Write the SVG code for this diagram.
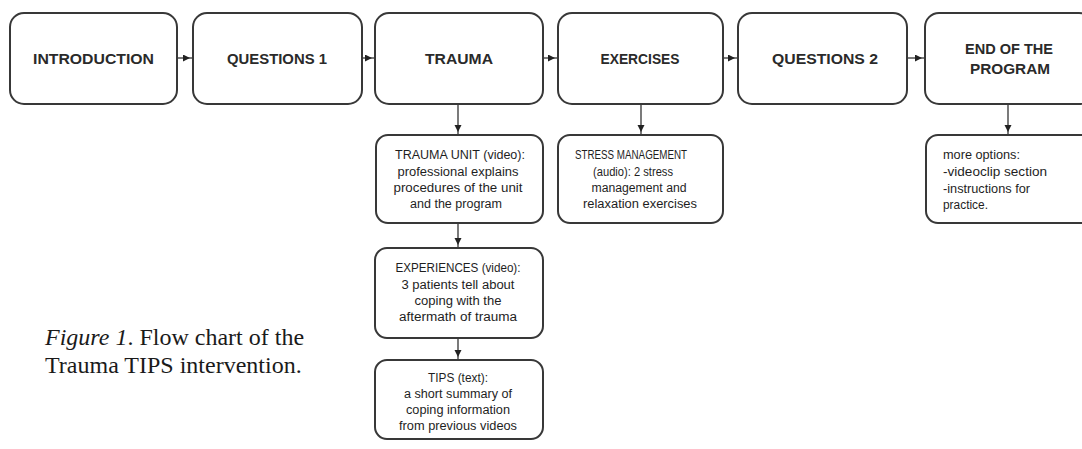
<svg xmlns="http://www.w3.org/2000/svg" width="1082" height="449" viewBox="0 0 1082 449">
<style>
.box{fill:#ffffff;stroke:#383838;stroke-width:2}
.main{font-family:"Liberation Sans",Arial,sans-serif;font-size:15px;font-weight:bold;fill:#2a2a2a;text-anchor:middle}
.sub{font-family:"Liberation Sans",Arial,sans-serif;font-size:12.5px;fill:#1e1e1e;text-anchor:middle}
.left{text-anchor:start}
.conn{stroke:#333;stroke-width:1.3;fill:none;marker-end:url(#ah)}
.cap{font-family:"Liberation Serif","Times New Roman",serif;font-size:24px;fill:#1a1a1a}
</style>
<defs>
<marker id="ah" markerUnits="userSpaceOnUse" markerWidth="12" markerHeight="8" refX="10" refY="3.5" orient="auto">
<path d="M0,0 L7,3.5 L0,7 z" fill="#222"/>
</marker>
</defs>
<rect width="1082" height="449" fill="#ffffff"/>
<g id="connectors">
<line class="conn" x1="177" y1="58" x2="193" y2="58"/>
<line class="conn" x1="362" y1="58" x2="375" y2="58"/>
<line class="conn" x1="543" y1="58" x2="558" y2="58"/>
<line class="conn" x1="723" y1="58" x2="738" y2="58"/>
<line class="conn" x1="907" y1="58" x2="925" y2="58"/>
<line class="conn" x1="458" y1="104" x2="458" y2="135"/>
<line class="conn" x1="641" y1="104" x2="641" y2="135"/>
<line class="conn" x1="1008" y1="104" x2="1008" y2="135"/>
<line class="conn" x1="458" y1="223" x2="458" y2="248"/>
<line class="conn" x1="458" y1="338" x2="458" y2="360"/>
</g>
<g id="introduction">
<rect class="box" x="10" y="13" width="167" height="91" rx="14"/>
<text class="main" x="93.5" y="64" textLength="121" lengthAdjust="spacingAndGlyphs">INTRODUCTION</text>
</g>
<g id="questions1">
<rect class="box" x="193" y="13" width="169" height="91" rx="14"/>
<text class="main" x="277" y="64" textLength="100" lengthAdjust="spacingAndGlyphs">QUESTIONS 1</text>
</g>
<g id="trauma">
<rect class="box" x="375" y="13" width="168" height="91" rx="14"/>
<text class="main" x="459" y="64" textLength="68" lengthAdjust="spacingAndGlyphs">TRAUMA</text>
</g>
<g id="exercises">
<rect class="box" x="558" y="13" width="165" height="91" rx="14"/>
<text class="main" x="640" y="64" textLength="79" lengthAdjust="spacingAndGlyphs">EXERCISES</text>
</g>
<g id="questions2">
<rect class="box" x="738" y="13" width="169" height="91" rx="14"/>
<text class="main" x="825" y="64" textLength="106" lengthAdjust="spacingAndGlyphs">QUESTIONS 2</text>
</g>
<g id="end">
<rect class="box" x="925" y="13" width="168" height="91" rx="14"/>
<text class="main" x="1009" y="54" textLength="88" lengthAdjust="spacingAndGlyphs">END OF THE</text>
<text class="main" x="1010" y="74" textLength="80" lengthAdjust="spacingAndGlyphs">PROGRAM</text>
</g>
<g id="trauma-unit">
<rect class="box" x="376" y="135" width="167" height="88" rx="12"/>
<text class="sub" x="460" y="159" textLength="130" lengthAdjust="spacingAndGlyphs">TRAUMA UNIT (video):</text>
<text class="sub" x="458" y="176" textLength="121" lengthAdjust="spacingAndGlyphs">professional explains</text>
<text class="sub" x="458" y="192" textLength="129" lengthAdjust="spacingAndGlyphs">procedures of the unit</text>
<text class="sub" x="456" y="208" textLength="92" lengthAdjust="spacingAndGlyphs">and the program</text>
</g>
<g id="stress-management">
<rect class="box" x="558" y="135" width="165" height="88" rx="12"/>
<text class="sub" x="631" y="159" textLength="112" lengthAdjust="spacingAndGlyphs">STRESS MANAGEMENT</text>
<text class="sub" x="633" y="176" textLength="80" lengthAdjust="spacingAndGlyphs">(audio): 2 stress</text>
<text class="sub" x="639" y="192" textLength="95" lengthAdjust="spacingAndGlyphs">management and</text>
<text class="sub" x="640" y="208" textLength="114" lengthAdjust="spacingAndGlyphs">relaxation exercises</text>
</g>
<g id="more-options">
<rect class="box" x="926" y="135" width="167" height="88" rx="12"/>
<text class="sub left" x="943" y="159" textLength="77" lengthAdjust="spacingAndGlyphs">more options:</text>
<text class="sub left" x="943" y="176" textLength="104" lengthAdjust="spacingAndGlyphs">-videoclip section</text>
<text class="sub left" x="943" y="193" textLength="87" lengthAdjust="spacingAndGlyphs">-instructions for</text>
<text class="sub left" x="943" y="209" textLength="45" lengthAdjust="spacingAndGlyphs">practice.</text>
</g>
<g id="experiences">
<rect class="box" x="375" y="248" width="168" height="90" rx="12"/>
<text class="sub" x="458" y="272" textLength="125" lengthAdjust="spacingAndGlyphs">EXPERIENCES (video):</text>
<text class="sub" x="458" y="289" textLength="113" lengthAdjust="spacingAndGlyphs">3 patients tell about</text>
<text class="sub" x="458" y="305" textLength="87" lengthAdjust="spacingAndGlyphs">coping with the</text>
<text class="sub" x="458" y="321" textLength="118" lengthAdjust="spacingAndGlyphs">aftermath of trauma</text>
</g>
<g id="tips">
<rect class="box" x="375" y="360" width="168" height="79" rx="12"/>
<text class="sub" x="458" y="382" textLength="60" lengthAdjust="spacingAndGlyphs">TIPS (text):</text>
<text class="sub" x="458" y="398" textLength="108" lengthAdjust="spacingAndGlyphs">a short summary of</text>
<text class="sub" x="458" y="414" textLength="104" lengthAdjust="spacingAndGlyphs">coping information</text>
<text class="sub" x="458" y="430" textLength="118" lengthAdjust="spacingAndGlyphs">from previous videos</text>
</g>
<g id="caption">
<text class="cap" x="45" y="345"><tspan font-style="italic">Figure 1</tspan>. Flow chart of the</text>
<text class="cap" x="45" y="373">Trauma TIPS intervention.</text>
</g>
</svg>
